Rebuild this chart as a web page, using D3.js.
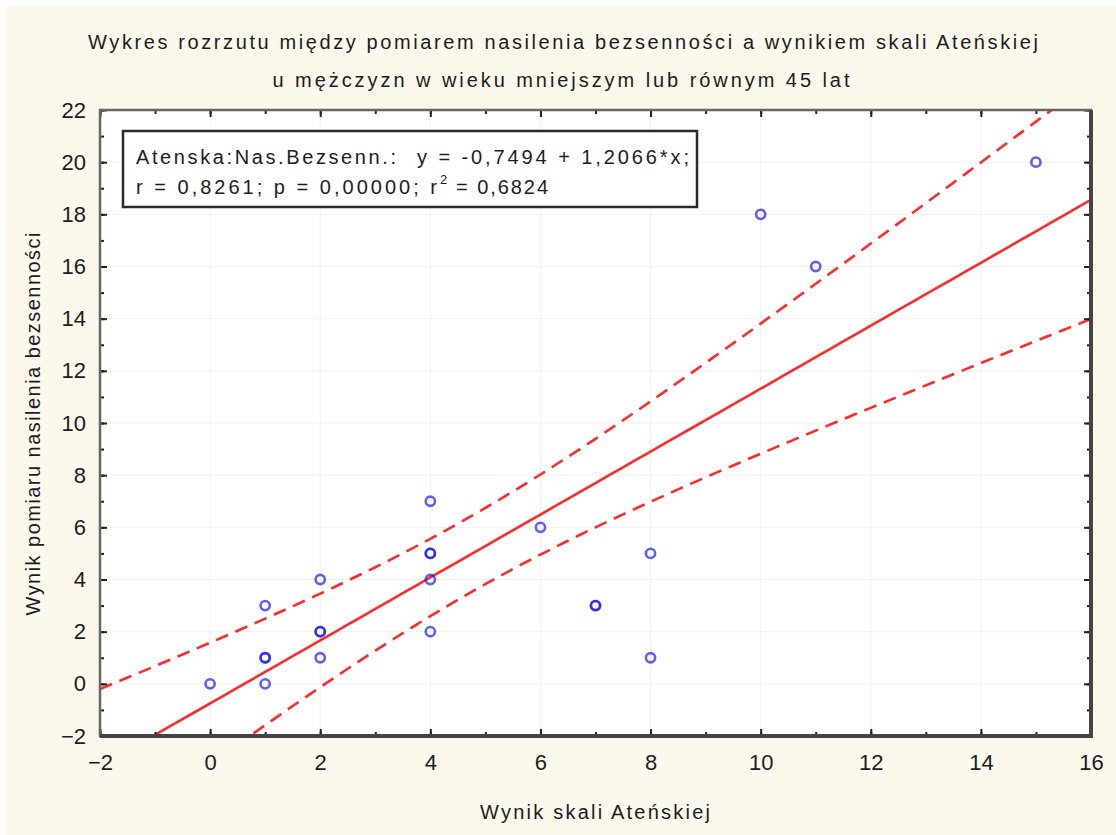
<!DOCTYPE html>
<html>
<head>
<meta charset="utf-8">
<script src="https://cdn.jsdelivr.net/npm/d3@7"></script>
<style>
    html, body { margin: 0; padding: 0; background: #ffffff; }
    svg { display: block; }
    text { font-family: 'Liberation Sans', Arial, sans-serif; fill: #1c1c24; }
</style>
</head>
<body>
<div id="chart"></div>
<script>
// Data (x = Atens score, y = insomnia severity)
const xValues = [0, 1, 1, 1, 1, 2, 2, 2, 2, 4, 4, 4, 4, 4, 6, 7, 7, 8, 8, 10, 11, 15];
const yValues = [0, 0, 1, 1, 3, 1, 2, 2, 4, 2, 4, 5, 5, 7, 6, 3, 3, 1, 5, 18, 16, 20];

const xTicks = [-2, 0, 2, 4, 6, 8, 10, 12, 14, 16];
const yTicks = [-2, 0, 2, 4, 6, 8, 10, 12, 14, 16, 18, 20, 22];

const titleLines = [
    'Wykres rozrzutu między pomiarem nasilenia bezsenności a wynikiem skali Ateńskiej',
    'u mężczyzn w wieku mniejszym lub równym 45 lat'
];
const xLabel = 'Wynik skali Ateńskiej';
const yLabel = 'Wynik pomiaru nasilenia bezsenności';
const legendName = 'Atenska:Nas.Bezsenn.:';
const legendEquation = 'y = -0,7494 + 1,2066*x;';
const legendStats = ['r = 0,8261; p = 0,00000; r', '2', '= 0,6824'];

// t(0.975, df = 20) for the 95% confidence band of the fitted line
const T_CRIT = 2.086;

const width = 1116;
const height = 835;
const plot = { left: 100, right: 1091, top: 110, bottom: 736 };

const svg = d3.select('#chart').append('svg').attr('width', width).attr('height', height);

// Cream page with a thin white rim on the top/left
svg.append('rect').attr('x', 6).attr('y', 6).attr('width', width - 6).attr('height', height - 6)
    .attr('fill', '#fdf8ec');

const xScale = d3.scaleLinear().domain([-2, 16]).range([plot.left, plot.right]);
const yScale = d3.scaleLinear().domain([-2, 22]).range([plot.bottom, plot.top]);

svg.append('rect')
    .attr('x', plot.left).attr('y', plot.top)
    .attr('width', plot.right - plot.left).attr('height', plot.bottom - plot.top)
    .attr('fill', '#ffffff');

// Faint grid
const grid = svg.append('g').attr('stroke', '#f1f1f1').attr('stroke-width', 1);
grid.selectAll('.gx').data(xTicks.slice(1, -1)).enter().append('line')
    .attr('x1', (d) => xScale(d)).attr('x2', (d) => xScale(d))
    .attr('y1', plot.top).attr('y2', plot.bottom);
grid.selectAll('.gy').data(yTicks.slice(1, -1)).enter().append('line')
    .attr('y1', (d) => yScale(d)).attr('y2', (d) => yScale(d))
    .attr('x1', plot.left).attr('x2', plot.right);

// Regression and its confidence band, computed from the points
const n = xValues.length;
const meanX = d3.mean(xValues);
const meanY = d3.mean(yValues);
const sxx = d3.sum(xValues, (x) => (x - meanX) ** 2);
const sxy = d3.sum(xValues, (x, i) => (x - meanX) * (yValues[i] - meanY));
const slope = sxy / sxx;
const intercept = meanY - slope * meanX;
const sse = d3.sum(xValues, (x, i) => (yValues[i] - intercept - slope * x) ** 2);
const s = Math.sqrt(sse / (n - 2));

const band = (x, sign) => {
    const fit = intercept + slope * x;
    const se = s * Math.sqrt(1 / n + (x - meanX) ** 2 / sxx);
    return fit + sign * T_CRIT * se;
};

svg.append('clipPath').attr('id', 'plot-clip').append('rect')
    .attr('x', plot.left).attr('y', plot.top)
    .attr('width', plot.right - plot.left).attr('height', plot.bottom - plot.top);

const evalX = d3.range(-2, 16.001, 0.25);
const line = d3.line().x((d) => xScale(d[0])).y((d) => yScale(d[1]));
const fitGroup = svg.append('g').attr('clip-path', 'url(#plot-clip)')
    .attr('fill', 'none').attr('stroke', '#ff2a2a').attr('stroke-width', 2.6);

fitGroup.append('path').attr('d', line(evalX.map((x) => [x, intercept + slope * x])));
fitGroup.append('path').attr('stroke-dasharray', '13,8')
    .attr('d', line(evalX.map((x) => [x, band(x, 1)])));
fitGroup.append('path').attr('stroke-dasharray', '13,8')
    .attr('d', line(evalX.map((x) => [x, band(x, -1)])));

// Points (open circles, duplicates look darker)
svg.append('g').selectAll('circle').data(xValues).enter().append('circle')
    .attr('cx', (d) => xScale(d))
    .attr('cy', (d, i) => yScale(yValues[i]))
    .attr('r', 4.6)
    .attr('fill', 'none')
    .attr('stroke', '#1c1cf0')
    .attr('stroke-opacity', 0.7)
    .attr('stroke-width', 2.6);

// Axes with inward ticks on all four sides
const minorX = d3.range(-2, 16.5, 1);
const minorY = d3.range(-2, 22.5, 1);
const tickStyle = (g) => {
    g.select('.domain').remove();
    g.selectAll('line').attr('stroke', '#222').attr('stroke-width', 2);
    g.selectAll('text').attr('font-size', 22).attr('fill', '#1c1c24');
};

svg.append('g').attr('transform', `translate(0,${plot.bottom})`)
    .call(d3.axisBottom(xScale).tickValues(minorX).tickSize(-4).tickFormat('')).call(tickStyle);
svg.append('g').attr('transform', `translate(0,${plot.bottom})`)
    .call(d3.axisBottom(xScale).tickValues(xTicks).tickSize(-7).tickPadding(18).tickFormat(d3.format('d')))
    .call(tickStyle);
svg.append('g').attr('transform', `translate(0,${plot.top})`)
    .call(d3.axisTop(xScale).tickValues(minorX).tickSize(-4).tickFormat('')).call(tickStyle);
svg.append('g').attr('transform', `translate(0,${plot.top})`)
    .call(d3.axisTop(xScale).tickValues(xTicks).tickSize(-7).tickFormat('')).call(tickStyle);

svg.append('g').attr('transform', `translate(${plot.left},0)`)
    .call(d3.axisLeft(yScale).tickValues(minorY).tickSize(-4).tickFormat('')).call(tickStyle);
svg.append('g').attr('transform', `translate(${plot.left},0)`)
    .call(d3.axisLeft(yScale).tickValues(yTicks).tickSize(-7).tickPadding(14).tickFormat(d3.format('d')))
    .call(tickStyle);
svg.append('g').attr('transform', `translate(${plot.right},0)`)
    .call(d3.axisRight(yScale).tickValues(minorY).tickSize(-4).tickFormat('')).call(tickStyle);
svg.append('g').attr('transform', `translate(${plot.right},0)`)
    .call(d3.axisRight(yScale).tickValues(yTicks).tickSize(-7).tickFormat('')).call(tickStyle);

// Frame: light top/left, heavy shadowed right/bottom
svg.append('rect')
    .attr('x', plot.left).attr('y', plot.top)
    .attr('width', plot.right - plot.left).attr('height', plot.bottom - plot.top)
    .attr('fill', 'none').attr('stroke', '#666').attr('stroke-width', 2.5);
svg.append('path')
    .attr('d', `M${plot.right},${plot.top}V${plot.bottom}H${plot.left}`)
    .attr('fill', 'none').attr('stroke', '#444').attr('stroke-width', 4);

// Legend box
const legend = svg.append('g');
legend.append('rect')
    .attr('x', 123).attr('y', 131).attr('width', 574).attr('height', 76)
    .attr('fill', '#ffffff').attr('stroke', '#2a2a2a').attr('stroke-width', 2.5);
legend.append('text').attr('x', 136).attr('y', 164).attr('font-size', 20)
    .attr('textLength', 260).attr('lengthAdjust', 'spacing').text(legendName);
legend.append('text').attr('x', 417).attr('y', 164).attr('font-size', 20)
    .attr('textLength', 272).attr('lengthAdjust', 'spacing').text(legendEquation);
const stats = legend.append('g');
stats.append('text').attr('x', 136).attr('y', 194).attr('font-size', 20)
    .attr('textLength', 301).attr('lengthAdjust', 'spacing').text(legendStats[0]);
stats.append('text').attr('x', 440).attr('y', 184).attr('font-size', 13).text(legendStats[1]);
stats.append('text').attr('x', 456).attr('y', 194).attr('font-size', 20)
    .attr('textLength', 92).attr('lengthAdjust', 'spacing').text(legendStats[2]);

// Title and axis labels
svg.append('text').attr('x', 563).attr('y', 49).attr('text-anchor', 'middle')
    .attr('font-size', 20).attr('textLength', 950).attr('lengthAdjust', 'spacing').text(titleLines[0]);
svg.append('text').attr('x', 561).attr('y', 87).attr('text-anchor', 'middle')
    .attr('font-size', 20).attr('textLength', 577).attr('lengthAdjust', 'spacing').text(titleLines[1]);

svg.append('text').attr('x', 595).attr('y', 819).attr('text-anchor', 'middle')
    .attr('font-size', 20).attr('textLength', 230).attr('lengthAdjust', 'spacing').text(xLabel);
svg.append('text').attr('transform', 'translate(40,424) rotate(-90)').attr('text-anchor', 'middle')
    .attr('font-size', 20).attr('textLength', 383).attr('lengthAdjust', 'spacing').text(yLabel);
</script>
</body>
</html>
